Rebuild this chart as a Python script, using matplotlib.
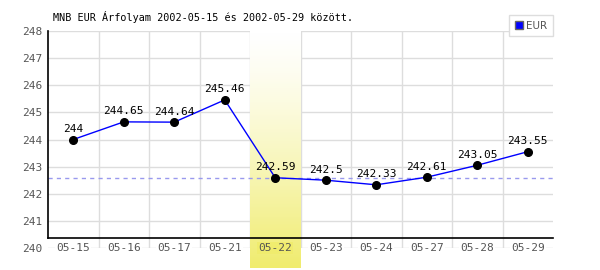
import numpy as np
import matplotlib
matplotlib.use('Agg')
import matplotlib.pyplot as plt
from matplotlib.colors import LinearSegmentedColormap

# data
dates = ['05-15', '05-16', '05-17', '05-21', '05-22', '05-23', '05-24', '05-27', '05-28', '05-29']
rates = [244.0, 244.65, 244.64, 245.46, 242.59, 242.5, 242.33, 242.61, 243.05, 243.55]
labels = ['244', '244.65', '244.64', '245.46', '242.59', '242.5', '242.33', '242.61', '243.05', '243.55']
yticks = [240, 241, 242, 243, 244, 245, 246, 247, 248]
highlight = 4  # index of the highlighted day
ref_value = 242.59

MONO = 'DejaVu Sans Mono'

fig = plt.figure(figsize=(6, 2.7), dpi=100)
ax = fig.add_axes([48 / 600, (270 - 248) / 270, 505 / 600, (248 - 31) / 270])
x = np.arange(len(dates))
ax.set_xlim(-0.5, len(dates) - 0.5)
ax.set_ylim(240, 248)

# grid
for v in yticks:
    ax.axhline(v, color='#dddddd', lw=1, zorder=0)
for i in range(1, len(dates)):
    ax.axvline(i - 0.5, color='#dddddd', lw=1, zorder=0)

# highlighted column, white to yellow, running below the axes
cmap = LinearSegmentedColormap.from_list('hl', ['#ffffff', '#f0ec6e'])
grad = (np.linspace(0, 1, 200) ** 1.3).reshape(-1, 1)
ylow = 240 - 20 / 27.1
ax.imshow(grad, cmap=cmap, aspect='auto', origin='upper',
          extent=(highlight - 0.5, highlight + 0.5, ylow, 248),
          zorder=0.5, clip_on=False)

ax.axhline(ref_value, color='#9999ee', lw=1, ls=(0, (3, 3)), zorder=1)

ax.plot(x, rates, color='#0000ff', lw=1, zorder=2)
ax.plot(x, rates, 'o', color='black', ms=5.5, zorder=3)
for xi, v, t in zip(x, rates, labels):
    ax.annotate(t, (xi, v), xytext=(0, 4), textcoords='offset points',
                ha='center', va='bottom', fontsize=8, family=MONO, zorder=4)

# black axis lines
ax.plot([-0.5, -0.5], [240 + 10 / 27.1, 248], color='black', lw=1.2, clip_on=False, zorder=5)
ax.plot([-0.5, len(dates) - 0.5], [240 + 10 / 27.1] * 2, color='black', lw=1.2, clip_on=False, zorder=5)

for s in ax.spines.values():
    s.set_visible(False)
ax.set_xticks([])
ax.set_yticks(yticks)
ax.set_yticklabels([str(v) for v in yticks], family=MONO, fontsize=8, color='#555555')
ax.tick_params(axis='y', length=0, pad=4)

# x labels sit on the 240 line with a background box
for i, d in enumerate(dates):
    bg = '#f0ec6e' if i == highlight else 'white'
    ax.text(i, 240, d, ha='center', va='center', fontsize=8, family=MONO,
            color='#555555', zorder=6,
            bbox=dict(facecolor=bg, edgecolor='none', pad=1))

fig.text(53 / 600, 1 - 17 / 270, 'MNB EUR Árfolyam 2002-05-15 és 2002-05-29 között.',
         fontsize=7.3, family=MONO, ha='left', va='center')

# legend
leg = fig.legend(handles=[plt.Rectangle((0, 0), 1, 1, facecolor='#0000ff', edgecolor='#666666')],
                 labels=['EUR'], loc='upper right', bbox_to_anchor=(553 / 600, 1 - 15 / 270),
                 bbox_transform=fig.transFigure,
                 fontsize=7.5, frameon=True, fancybox=False, borderpad=0.55,
                 handlelength=0.8, handleheight=0.8, handletextpad=0.3,
                 borderaxespad=0)
leg.get_frame().set_edgecolor('#dddddd')
leg.get_frame().set_linewidth(1)
leg.get_frame().set_alpha(1)
for t in leg.get_texts():
    t.set_color('#555555')

fig.savefig('out.png', dpi=100)
